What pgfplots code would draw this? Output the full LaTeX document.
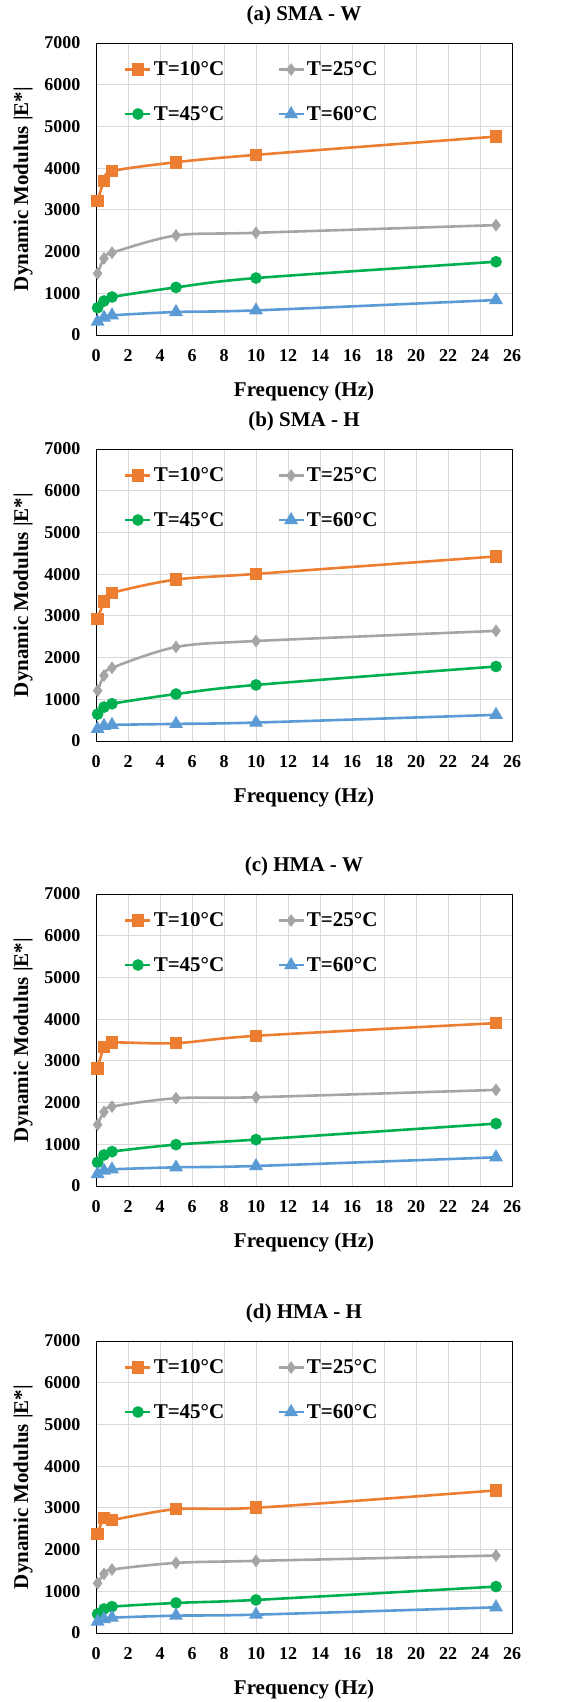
\documentclass[border=0pt]{standalone}
\usepackage{fontspec}
\setmainfont{Liberation Serif}
\usepackage{pgfplots}
\pgfplotsset{compat=1.18}
\definecolor{cor}{HTML}{ED7D31}
\definecolor{cgr}{HTML}{A5A5A5}
\definecolor{cgn}{HTML}{00B050}
\definecolor{cbl}{HTML}{5B9BD5}
\definecolor{gridc}{HTML}{D9D9D9}
\pgfplotsset{
  panel/.style={
    scale only axis, width=416pt, height=292pt,
    anchor=north west,
    xmin=0, xmax=26, ymin=0, ymax=7000,
    xtick distance=2, ytick distance=1000,
    grid=major, major grid style={color=gridc, line width=0.9pt},
    axis line style={black, line width=0.9pt},
    major tick length=0pt,
    /pgf/number format/assume math mode=true,
    /pgf/number format/1000 sep={},
    tick label style={font=\fontsize{18}{20}\selectfont\bfseries},
    xticklabel style={yshift=-11pt},
    yticklabel style={xshift=-12pt},
    xlabel={Frequency (Hz)},
    ylabel={Dynamic Modulus |E*|},
    label style={font=\fontsize{21}{24}\selectfont\bfseries},
    xlabel style={at={(axis description cs:0.5,-0.192)}, anchor=center},
    ylabel style={at={(axis description cs:-0.1755,0.5)}, anchor=center},
    title style={at={(axis description cs:0.5,1.075)}, anchor=center, font=\fontsize{21}{24}\selectfont\bfseries},
    legend columns=2,
    legend cell align=left,
    legend style={draw=none, fill=none, at={(axis description cs:0.06,0.95)}, anchor=north west,
      font=\fontsize{21}{24}\selectfont\bfseries, row sep=25pt,
      /tikz/every even column/.append style={column sep=51pt}},
    legend image code/.code={\draw[mark repeat=2,mark phase=2] plot coordinates {(0pt,0pt)(12.5pt,0pt)(25pt,0pt)};},
  },
  s10/.style={color=cor, line width=2.6pt, smooth, mark=square*, mark size=5pt, mark options={solid}},
  s25/.style={color=cgr, line width=2.6pt, smooth, mark=diamond*, mark size=4.3pt, mark options={solid}},
  s45/.style={color=cgn, line width=2.6pt, smooth, mark=*, mark size=4.5pt, mark options={solid}},
  s60/.style={color=cbl, line width=2.6pt, smooth, mark=triangle*, mark size=5.5pt, mark options={solid}},
}
\begin{document}
\begin{tikzpicture}
\path[use as bounding box] (0,0) rectangle (568pt,-1702pt);
% (a)
\begin{axis}[panel, at={(96pt,-43pt)}, title={(a) SMA - W}]
\addplot[s10] coordinates {(0.1,3216) (0.5,3687) (1,3927) (5,4142) (10,4318) (25,4757)};
\addlegendentry{T=10°C}
\addplot[s25] coordinates {(0.1,1476) (0.5,1836) (1,1971) (5,2386) (10,2450) (25,2634)};
\addlegendentry{T=25°C}
\addplot[s45] coordinates {(0.1,654) (0.5,814) (1,910) (5,1141) (10,1365) (25,1756)};
\addlegendentry{T=45°C}
\addplot[s60] coordinates {(0.1,320) (0.5,415) (1,470) (5,551) (10,590) (25,838)};
\addlegendentry{T=60°C}
\end{axis}
% (b)
\begin{axis}[panel, at={(96pt,-449pt)}, title={(b) SMA - H}]
\addplot[s10] coordinates {(0.1,2920) (0.5,3339) (1,3548) (5,3870) (10,4006) (25,4425)};
\addlegendentry{T=10°C}
\addplot[s25] coordinates {(0.1,1207) (0.5,1569) (1,1754) (5,2253) (10,2397) (25,2639)};
\addlegendentry{T=25°C}
\addplot[s45] coordinates {(0.1,644) (0.5,813) (1,893) (5,1126) (10,1344) (25,1786)};
\addlegendentry{T=45°C}
\addplot[s60] coordinates {(0.1,290) (0.5,362) (1,386) (5,410) (10,442) (25,627)};
\addlegendentry{T=60°C}
\end{axis}
% (c)
\begin{axis}[panel, at={(96pt,-894pt)}, title={(c) HMA - W}]
\addplot[s10] coordinates {(0.1,2816) (0.5,3328) (1,3440) (5,3424) (10,3600) (25,3904)};
\addlegendentry{T=10°C}
\addplot[s25] coordinates {(0.1,1472) (0.5,1776) (1,1904) (5,2104) (10,2128) (25,2304)};
\addlegendentry{T=25°C}
\addplot[s45] coordinates {(0.1,568) (0.5,744) (1,824) (5,992) (10,1112) (25,1496)};
\addlegendentry{T=45°C}
\addplot[s60] coordinates {(0.1,288) (0.5,368) (1,400) (5,448) (10,480) (25,688)};
\addlegendentry{T=60°C}
\end{axis}
% (d)
\begin{axis}[panel, at={(96pt,-1341pt)}, title={(d) HMA - H}]
\addplot[s10] coordinates {(0.1,2378) (0.5,2762) (1,2714) (5,2970) (10,3002) (25,3419)};
\addlegendentry{T=10°C}
\addplot[s25] coordinates {(0.1,1193) (0.5,1417) (1,1521) (5,1681) (10,1729) (25,1857)};
\addlegendentry{T=25°C}
\addplot[s45] coordinates {(0.1,456) (0.5,576) (1,632) (5,721) (10,793) (25,1113)};
\addlegendentry{T=45°C}
\addplot[s60] coordinates {(0.1,272) (0.5,336) (1,368) (5,416) (10,440) (25,616)};
\addlegendentry{T=60°C}
\end{axis}
\end{tikzpicture}
\end{document}
